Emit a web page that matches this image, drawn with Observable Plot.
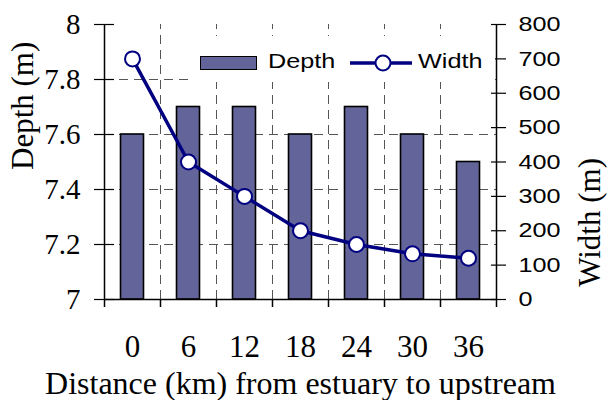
<!DOCTYPE html>
<html>
<head>
<meta charset="utf-8">
<script src="https://cdn.jsdelivr.net/npm/d3@7"></script>
<script src="https://cdn.jsdelivr.net/npm/@observablehq/plot@0.6"></script>
<style>
  html, body { margin: 0; padding: 0; background: #fff; }
  #wrap { position: relative; width: 608px; height: 400px; }
  #legend { position: absolute; left: 190px; top: 36px; width: 305px; height: 46px; background: #fff;
    font-family: Arial, "Liberation Sans", sans-serif; font-size: 21px; line-height: 23px; color: #000; }
  #legend .sw { position: absolute; left: 10px; top: 20px; width: 55px; height: 12px; background: #62649a; border: 1.5px solid #000; }
  #legend .t1 { position: absolute; left: 78px; top: 13px; transform: scaleX(1.2); transform-origin: left; }
  #legend svg { position: absolute; left: 160px; top: 18px; }
  #legend .t2 { position: absolute; left: 228px; top: 13px; transform: scaleX(1.2); transform-origin: left; }
</style>
</head>
<body>
<div id="wrap"></div>
<script>
const distances = [0, 6, 12, 18, 24, 30, 36];
const depths = [7.6, 7.7, 7.7, 7.6, 7.7, 7.6, 7.5];
const widths = [700, 400, 300, 200, 160, 133, 120];
const depthTicks = [7, 7.2, 7.4, 7.6, 7.8, 8];
const widthTicks = [0, 100, 200, 300, 400, 500, 600, 700, 800];
const boundaries = [-3, 3, 9, 15, 21, 27, 33, 39];

const data = distances.map((d, i) => ({dist: d, depth: depths[i], width: widths[i]}));
const w2d = d3.scaleLinear([0, 800], [7, 8]);
const barColor = "#62649a";
const lineColor = "#000080";
const serif = "'Times New Roman', 'Liberation Serif', serif";
const sans = "Arial, 'Liberation Sans', sans-serif";

const plot = Plot.plot({
  width: 608,
  height: 400,
  marginLeft: 104,
  marginRight: 112,
  marginTop: 24,
  marginBottom: 101,
  style: {background: "#fff", overflow: "visible", fontFamily: serif},
  x: {type: "linear", domain: [-3, 39]},
  y: {domain: [7, 8]},
  marks: [
    // grid
    Plot.ruleY(depthTicks.slice(1, -1), {stroke: "#555", strokeDasharray: "9,6", strokeWidth: 1}),
    Plot.ruleX(boundaries.slice(1, -1), {y1: 7, y2: 8, stroke: "#555", strokeDasharray: "9,6", strokeWidth: 1}),
    // bars
    Plot.rectY(data, {x1: d => d.dist - 3, x2: d => d.dist + 3, y1: 7, y2: "depth", insetLeft: 16.5, insetRight: 16.5,
      fill: barColor, stroke: "#000", strokeWidth: 1.6}),
    // frame lines
    Plot.ruleY([7], {stroke: "#000", strokeWidth: 1.5}),
    Plot.ruleX([-3, 39], {y1: 7, y2: 8, stroke: "#000", strokeWidth: 1.5}),
    // left axis
    Plot.axisY(depthTicks, {anchor: "left", tickSize: 10, tickPadding: 14, fontSize: 29, fontFamily: serif,
      tickFormat: d => String(d), label: null, strokeWidth: 1.2}),
    Plot.axisY(depthTicks, {anchor: "left", tickSize: 10, dx: 10, text: null, label: null, strokeWidth: 1.2}),
    // right axis (width)
    Plot.axisY(widthTicks.map(w2d), {anchor: "right", tickSize: 9, tickPadding: 13, fontSize: 21, fontFamily: sans,
      tickFormat: d => String(Math.round(w2d.invert(d))), label: null, strokeWidth: 1.2}),
    Plot.axisY(widthTicks.map(w2d), {anchor: "right", tickSize: 6, dx: -6, text: null, label: null, strokeWidth: 1.2}),
    // x axis
    Plot.axisX(boundaries, {anchor: "bottom", tickSize: 8, text: null, label: null, strokeWidth: 1.5}),
    Plot.axisX(distances, {anchor: "bottom", tickSize: 0, tickPadding: 35, fontSize: 31, fontFamily: serif, label: null}),
    // width line
    Plot.line(data, {x: "dist", y: d => w2d(d.width), stroke: lineColor, strokeWidth: 3.5}),
    Plot.dot(data, {x: "dist", y: d => w2d(d.width), r: 7.5, fill: "#fff", stroke: lineColor, strokeWidth: 2}),
    // titles
    Plot.text(["Depth (m)"], {frameAnchor: "left", rotate: -90, dx: -81, dy: 8, fontSize: 31, fontFamily: serif, fill: "#000"}),
    Plot.text(["Width (m)"], {frameAnchor: "right", rotate: -90, dx: 94, dy: -4, fontSize: 31, fontFamily: serif, fill: "#000"}),
    Plot.text(["Distance (km) from estuary to upstream"], {frameAnchor: "bottom", lineAnchor: "middle", dy: 84, fontSize: 32, fontFamily: serif, fill: "#000"})
  ]
});

// horizontal stretch of sans labels (right axis), as in the reference
d3.select(plot).selectAll("g[font-family]").each(function() {
  const ff = this.getAttribute("font-family");
  if (ff && ff.startsWith("Arial")) {
    d3.select(this).selectAll("text").attr("transform", function() {
      return (this.getAttribute("transform") || "") + " scale(1.2,1)";
    });
  }
});

const wrap = document.getElementById("wrap");
wrap.appendChild(plot);
const legend = document.createElement("div");
legend.id = "legend";
legend.innerHTML = `<div class="sw"></div><div class="t1">Depth</div>
<svg width="62" height="18"><line x1="0" y1="9" x2="62" y2="9" stroke="${lineColor}" stroke-width="3.5"/><circle cx="33" cy="9" r="7.5" fill="#fff" stroke="${lineColor}" stroke-width="2"/></svg>
<div class="t2">Width</div>`;
wrap.appendChild(legend);
</script>
</body>
</html>
